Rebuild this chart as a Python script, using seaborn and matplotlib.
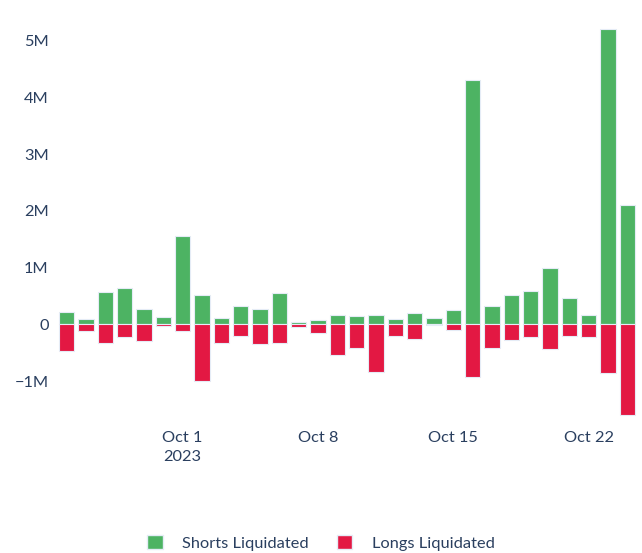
import matplotlib
matplotlib.use("Agg")
import matplotlib.pyplot as plt
from matplotlib.patches import Patch
from matplotlib.ticker import FuncFormatter
import pandas as pd
import seaborn as sns

# daily liquidations, Sep 25 - Oct 24 2023 (USD)
dates = pd.date_range("2023-09-25", "2023-10-24", freq="D")
shorts = [0.22, 0.09, 0.57, 0.645, 0.28, 0.135, 1.56, 0.52, 0.12, 0.32,
          0.28, 0.545, 0.047, 0.07, 0.17, 0.14, 0.17, 0.094, 0.205, 0.106,
          0.26, 4.30, 0.32, 0.51, 0.58, 0.99, 0.47, 0.17, 5.20, 2.11]
longs = [0.46, 0.12, 0.32, 0.22, 0.30, 0.03, 0.11, 1.00, 0.32, 0.205,
         0.35, 0.33, 0.04, 0.15, 0.545, 0.42, 0.84, 0.21, 0.26, 0.01,
         0.10, 0.93, 0.42, 0.28, 0.22, 0.43, 0.21, 0.22, 0.86, 1.60]
series_names = ["Shorts Liquidated", "Longs Liquidated"]
colors = ["#4db363", "#e31843"]
tick_dates = ["2023-10-01", "2023-10-08", "2023-10-15", "2023-10-22"]
tick_labels = ["Oct 1\n2023", "Oct 8", "Oct 15", "Oct 22"]

day = [d.strftime("%Y-%m-%d") for d in dates]
df = pd.concat([
    pd.DataFrame({"date": day, "value": [v * 1e6 for v in shorts], "side": series_names[0]}),
    pd.DataFrame({"date": day, "value": [-v * 1e6 for v in longs], "side": series_names[1]}),
])

sns.set_theme(style="white")
plt.rcParams["font.family"] = ["Lato", "DejaVu Sans"]
text_color = "#2a3f5f"

fig = plt.figure(figsize=(6.42, 5.53), dpi=100)
ax = fig.add_axes([57 / 642, (553 - 421) / 553, 580 / 642, 409 / 553])

sns.barplot(data=df, x="date", y="value", hue="side", order=day,
            hue_order=series_names, palette=colors, dodge=False,
            width=0.8, edgecolor="#e5ecf6", linewidth=0.8,
            legend=False, ax=ax, errorbar=None, saturation=1)

ax.set_xlim(-0.5, len(day) - 0.5)
ax.set_ylim(-1.7e6, 5.5e6)
ax.set_yticks([-1e6, 0, 1e6, 2e6, 3e6, 4e6, 5e6])


def fmt(v, pos):
    if v == 0:
        return "0"
    return f"{v / 1e6:.0f}M".replace("-", "\u2212")


ax.yaxis.set_major_formatter(FuncFormatter(fmt))
ax.set_xticks([day.index(t) for t in tick_dates])
ax.set_xticklabels(tick_labels, linespacing=1.45)
ax.tick_params(axis="both", length=0, labelsize=11.8, colors=text_color)
ax.tick_params(axis="x", pad=7)
ax.tick_params(axis="y", pad=6)
ax.set_xlabel("")
ax.set_ylabel("")
for s in ax.spines.values():
    s.set_visible(False)

handles = [Patch(facecolor=c, edgecolor="#e5ecf6", label=n) for c, n in zip(colors, series_names)]
leg = fig.legend(handles=handles, loc="center", bbox_to_anchor=(0.5, 10 / 553), ncol=2,
                 frameon=False, fontsize=11.8, handlelength=0.95, handleheight=0.95,
                 handletextpad=1.2, columnspacing=1.7)
for t in leg.get_texts():
    t.set_color(text_color)

fig.savefig("out.png", dpi=100)
